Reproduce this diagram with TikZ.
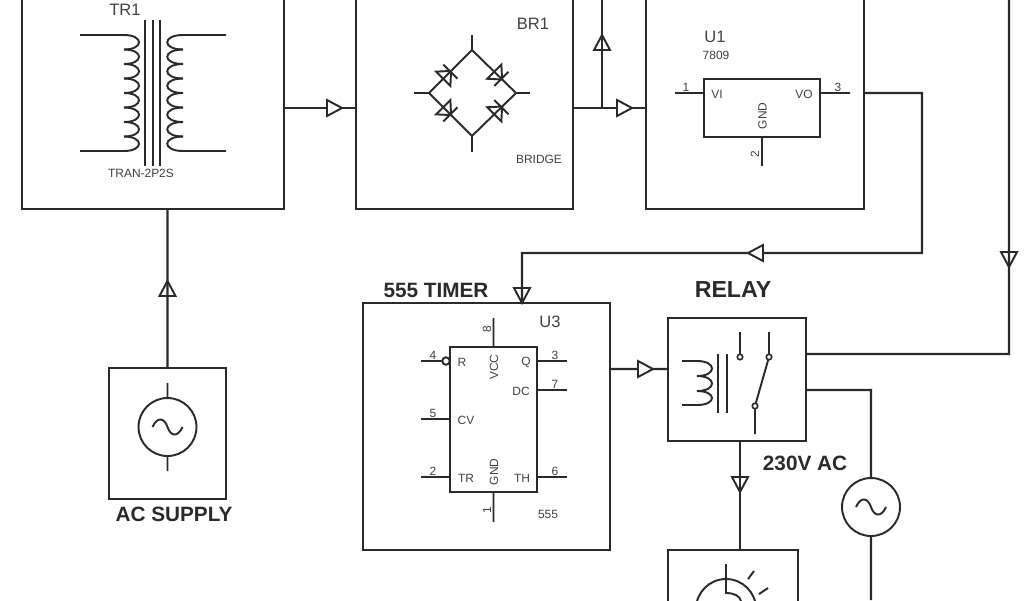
\documentclass[tikz,border=0pt]{standalone}
\usepackage{fontspec}
\setmainfont{Liberation Sans}
\usepackage[american]{circuitikz}

\definecolor{inkline}{HTML}{2A2A2A}
\definecolor{inktext}{HTML}{404040}

\tikzset{
  blockbox/.style={draw=inkline, line width=1.25pt, inner sep=0pt, outer sep=0pt},
  chipbox/.style={draw=inkline, line width=1.1pt, inner sep=0pt, outer sep=0pt},
  acsource/.style={circle, draw=inkline, line width=1.1pt, inner sep=0pt, outer sep=0pt, minimum size=1.16cm},
  contact/.style={circle, draw=inkline, line width=0.9pt, fill=white, inner sep=0pt, outer sep=0pt, minimum size=0.11cm},
  titlelbl/.style={inner sep=0pt, text=inkline, font=\fontsize{11.8}{13}\selectfont\bfseries},
  reflbl/.style={inner sep=0pt, text=inktext, font=\fontsize{9.4}{11}\selectfont},
  pinlbl/.style={inner sep=0pt, text=inktext, font=\fontsize{6.8}{8}\selectfont},
  wire/.style={inkline, line width=1.25pt},
  thinwire/.style={inkline, line width=1.1pt},
  flowh/.pic={\draw[inkline, line width=1.1pt, fill=white, line join=miter] (0,0) -- (-15,-8) -- (-15,8) -- cycle;},
  flowv/.pic={\draw[inkline, line width=1.1pt, line join=miter] (0,0) -- (-15,-8) -- (-15,8) -- cycle;},
  diodesym/.pic={\draw[thinwire, line join=miter] (0,-10) -- (11,0) -- (0,10) -- cycle; \draw[thinwire] (10,-10) -- (10,10);},
  sinewave/.pic={\draw[thinwire] (-15,0) .. controls (-10,-11) and (-3,-9) .. (0,0) .. controls (3,9) and (10,11) .. (15,0);}
}

\begin{document}
\begin{tikzpicture}[x=0.02cm, y=-0.02cm]
\useasboundingbox (0,0) rectangle (1024,600);
\clip (0,0) rectangle (1024,600);

% Main blocks
\node[blockbox, minimum width=5.24cm, minimum height=5.38cm] (tr_block) at (153,74.5) {};
\node[blockbox, minimum width=4.34cm, minimum height=5.38cm] (br_block) at (464.5,74.5) {};
\node[blockbox, minimum width=4.36cm, minimum height=5.38cm] (u1_block) at (755,74.5) {};
\node[blockbox, minimum width=4.94cm, minimum height=4.94cm] (u3_block) at (486.5,426.5) {};
\node[blockbox, minimum width=2.76cm, minimum height=2.46cm] (relay_block) at (737,379.5) {};
\node[blockbox, minimum width=2.6cm, minimum height=2.2cm] (lamp_block) at (733,605) {};
\node[blockbox, minimum width=2.34cm, minimum height=2.62cm] (ac_block) at (167.5,433.5) {};

% Block titles
\node[titlelbl] (t_timer) at (436,290) {555 TIMER};
\node[titlelbl, font=\fontsize{13.2}{15}\selectfont\bfseries] (t_relay) at (733,290) {RELAY};
\node[titlelbl] (t_mains) at (805,463) {230V AC};
\node[titlelbl] (t_acsup) at (174,514) {AC SUPPLY};

% Transformer
\node[reflbl] (tr_ref) at (125,10) {TR1};
\node[pinlbl] (tr_val) at (141,173) {TRAN-2P2S};
\draw[thinwire] (145,20) -- (145,166);
\draw[thinwire] (153,20) -- (153,166);
\draw[thinwire] (160,20) -- (160,166);
\draw[thinwire] (80,35) to[short] (124,35);
\draw[thinwire] (80,151) to[short] (124,151);
\draw[thinwire] (226,35) to[short] (183,35);
\draw[thinwire] (226,151) to[short] (183,151);
\foreach \ya/\yb in {35/49.5,49.5/64,64/78.5,78.5/93,93/107.5,107.5/122,122/136.5,136.5/151} {
  \draw[thinwire] (124,\ya) .. controls (144,\ya) and (144,\yb) .. (124,\yb);
  \draw[thinwire] (183,\ya) .. controls (162,\ya) and (162,\yb) .. (183,\yb);
}

% Bridge
\node[reflbl] (br_ref) at (533,24) {BR1};
\node[pinlbl] (br_val) at (539,159) {BRIDGE};
\coordinate (br_top) at (472,50);
\coordinate (br_bot) at (472,136);
\coordinate (br_lft) at (429,93);
\coordinate (br_rgt) at (516,93);
\draw[thinwire] (br_top) -- (br_rgt) -- (br_bot) -- (br_lft) -- cycle;
\draw[thinwire] (br_top) -- ++(0,-15);
\draw[thinwire] (br_bot) -- ++(0,16);
\draw[thinwire] (br_lft) -- ++(-15,0);
\draw[thinwire] (br_rgt) -- ++(14,0);
\pic[rotate=45] at (443.3,78.7) {diodesym};
\pic[rotate=-45] at (443.3,107.3) {diodesym};
\pic[rotate=-45] at (494.3,71.7) {diodesym};
\pic[rotate=45] at (494.3,114.3) {diodesym};

% Regulator
\node[reflbl] (u1_ref) at (715,37) {U1};
\node[pinlbl] (u1_val) at (716,55) {7809};
\node[chipbox, minimum width=2.32cm, minimum height=1.16cm] (u1_chip) at (762,108) {};
\draw[thinwire] (u1_chip.west |- 0,93) to[short] ++(-29,0);
\draw[thinwire] (u1_chip.east |- 0,93) to[short] ++(30,0);
\draw[thinwire] (u1_chip.south) to[short] ++(0,29);
\node[pinlbl] (u1_p1) at (686,87) {1};
\node[pinlbl] (u1_p3) at (838,87) {3};
\node[pinlbl, rotate=90] (u1_p2) at (755,154) {2};
\node[pinlbl] (u1_vi) at (717,94) {VI};
\node[pinlbl] (u1_vo) at (804,94) {VO};
\node[pinlbl, rotate=90] (u1_gnd) at (762.5,116) {GND};

% Timer
\node[reflbl] (u3_ref) at (550,322) {U3};
\node[pinlbl] (u3_val) at (548,514) {555};
\node[chipbox, minimum width=1.74cm, minimum height=2.9cm] (u3_chip) at (493.5,419.5) {};
\draw[thinwire] (u3_chip.north) to[short] ++(0,-29);
\draw[thinwire] (u3_chip.south) to[short] ++(0,30);
\node[circle, draw=inkline, line width=1.1pt, inner sep=0pt, outer sep=0pt, minimum size=0.15cm] (u3_bubble) at (446,361) {};
\draw[thinwire] (u3_bubble.west) to[short] (421,361);
\draw[thinwire] (u3_chip.west |- 0,419) to[short] ++(-29,0);
\draw[thinwire] (u3_chip.west |- 0,477) to[short] ++(-29,0);
\draw[thinwire] (u3_chip.east |- 0,361) to[short] ++(30,0);
\draw[thinwire] (u3_chip.east |- 0,390) to[short] ++(30,0);
\draw[thinwire] (u3_chip.east |- 0,477) to[short] ++(30,0);
\node[pinlbl] (u3_p4) at (433,355) {4};
\node[pinlbl] (u3_p5) at (433,413) {5};
\node[pinlbl] (u3_p2) at (433,471) {2};
\node[pinlbl] (u3_p3) at (555,355) {3};
\node[pinlbl] (u3_p7) at (555,384) {7};
\node[pinlbl] (u3_p6) at (555,471) {6};
\node[pinlbl, rotate=90] (u3_p8) at (487,329) {8};
\node[pinlbl, rotate=90] (u3_p1) at (487,510) {1};
\node[pinlbl] (u3_r) at (462,362) {R};
\node[pinlbl] (u3_cv) at (466,420) {CV};
\node[pinlbl] (u3_tr) at (466,478) {TR};
\node[pinlbl] (u3_q) at (526,362) {Q};
\node[pinlbl] (u3_dc) at (521,391) {DC};
\node[pinlbl] (u3_th) at (522,478) {TH};
\node[pinlbl, rotate=90] (u3_vcc) at (494,367) {VCC};
\node[pinlbl, rotate=90] (u3_gnd) at (494,472) {GND};

% Relay coil and contacts
\draw[thinwire] (682,361) to[short] (697,361);
\draw[thinwire] (682,405) to[short] (697,405);
\foreach \ya/\yb in {361/376,376/391,391/405} {
  \draw[thinwire] (697,\ya) .. controls (717,\ya) and (717,\yb) .. (697,\yb);
}
\draw[thinwire] (718,354) -- (718,413);
\draw[thinwire] (727,354) -- (727,413);
\node[contact] (rl_nc) at (740,357) {};
\node[contact] (rl_no) at (769,357) {};
\node[contact] (rl_com) at (755,406) {};
\draw[thinwire] (rl_nc.north) to[short] (740,332);
\draw[thinwire] (rl_no.north) to[short] (769,332);
\draw[thinwire] (rl_com.south) to[short] (755,434);
\draw[thinwire] (rl_com) -- (rl_no);

% Lamp
\draw[thinwire] (726,609) circle (30);
\draw[thinwire] (726,564) -- (726,593) .. controls (734,593) and (740,596) .. (741,601);
\draw[thinwire] (748,579) -- (754,571);
\draw[thinwire] (759,594) -- (768,588);

% Supply sources
\node[acsource] (ac_src) at (167.5,427) {};
\pic at (167.5,427) {sinewave};
\draw[thinwire] (ac_src.north) to[short] ++(0,-15);
\draw[thinwire] (ac_src.south) to[short] ++(0,15);
\node[acsource] (mains_src) at (871,507) {};
\pic at (871,507) {sinewave};

% Connections
\coordinate (up_end) at (602,0);
\coordinate (br_tap) at (602,108);
\coordinate (fb_end) at (1009,0);
\draw[wire] (tr_block.east |- 0,108) to[short] (br_block.west |- 0,108);
\draw[wire] (br_block.east |- 0,108) to[short] (u1_block.west |- 0,108);
\draw[wire] (br_tap) to[short] (up_end);
\draw[wire] (u1_block.east |- 0,93) to[short] (922,93) to[short] (922,253) to[short] (522,253) to[short] (u3_block.north -| 522,0);
\draw[wire] (fb_end) to[short] (1009,354) to[short] (relay_block.east |- 0,354);
\draw[wire] (ac_block.north) to[short] (tr_block.south -| ac_block.north);
\draw[wire] (u3_block.east |- 0,369) to[short] (relay_block.west |- 0,369);
\draw[wire] (relay_block.east |- 0,390) to[short] (871,390) to[short] (mains_src.north);
\draw[wire] (mains_src.south) to[short] (871,600);
\draw[wire] (relay_block.south -| 740,0) to[short] (lamp_block.north -| 740,0);

% Flow marks
\pic at (342,108) {flowh};
\pic at (632,108) {flowh};
\pic at (653,369) {flowh};
\pic[rotate=180] at (748,253) {flowh};
\pic[rotate=90] at (602,35) {flowv};
\pic[rotate=90] at (167.5,281) {flowv};
\pic[rotate=-90] at (1009,267) {flowv};
\pic[rotate=-90] at (522,303) {flowv};
\pic[rotate=-90] at (740,492) {flowv};

\end{tikzpicture}
\end{document}
